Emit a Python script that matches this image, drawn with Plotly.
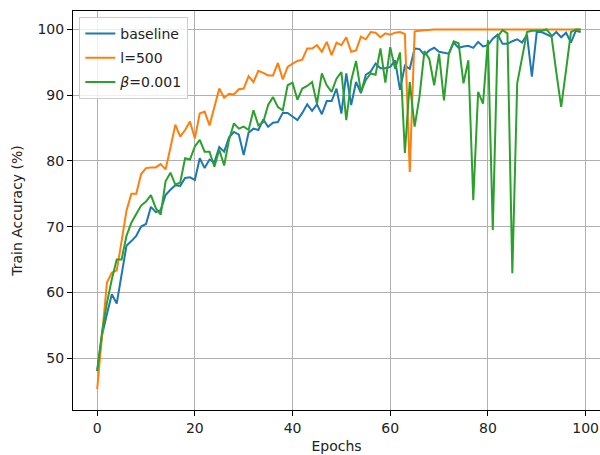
import plotly.graph_objects as go

epochs = list(range(100))

baseline = [
    48.0, 53.5, 56.7, 59.7, 58.3, 62.8, 67.1, 67.8, 68.6, 70.0,
    70.4, 73.0, 72.2, 72.5, 74.8, 75.6, 76.3, 76.2, 77.4, 77.5,
    77.1, 80.4, 78.9, 80.2, 79.8, 82.1, 81.4, 83.6, 84.4, 84.0,
    80.9, 84.3, 84.9, 84.7, 86.3, 85.2, 85.8, 85.9, 87.3, 87.3,
    86.7, 86.2, 87.3, 88.6, 87.6, 88.6, 87.1, 89.1, 89.1, 91.0,
    87.2, 93.3, 88.5, 92.0, 90.3, 93.1, 93.6, 94.8, 94.1, 94.1,
    94.3, 95.3, 90.8, 94.5, 94.0, 97.1, 97.0, 96.1, 96.8, 97.2,
    96.6, 96.4, 96.3, 98.0, 97.2, 97.4, 97.5, 97.2, 98.1, 97.4,
    97.6, 98.6, 99.2, 97.8, 97.8, 98.2, 98.5, 98.0, 99.2, 92.8,
    99.6, 99.6, 99.2, 98.9, 99.6, 98.8, 99.5, 98.0, 99.8, 99.6,
]

l500 = [
    45.3, 53.0, 61.5, 63.0, 63.3, 67.8, 72.4, 75.0, 75.0, 78.0,
    78.9, 79.0, 79.0, 79.5, 78.7, 82.0, 85.5, 83.7, 84.7, 86.0,
    83.4, 87.2, 87.5, 85.4, 88.2, 91.0, 89.6, 90.2, 90.1, 90.9,
    91.0, 92.9, 92.0, 93.7, 93.4, 93.0, 93.0, 94.9, 92.4, 94.3,
    94.8, 95.2, 95.4, 97.1, 97.1, 97.6, 96.6, 98.1, 96.1, 98.0,
    97.6, 98.8, 96.6, 96.8, 98.9, 98.5, 99.6, 99.5, 98.8, 99.4,
    99.2, 99.5, 99.6, 99.3, 78.3, 99.7, 99.8, 99.9, 100.0, 100.0,
    100.0, 100.0, 100.0, 100.0, 100.0, 100.0, 100.0, 100.0, 100.0, 100.0,
    100.0, 100.0, 100.0, 100.0, 100.0, 100.0, 100.0, 100.0, 100.0, 100.0,
    100.0, 100.0, 100.0, 100.0, 100.0, 100.0, 100.0, 100.0, 100.0, 100.0,
]

beta001 = [
    48.0, 54.0, 58.4, 62.0, 65.0, 65.0, 68.6, 70.6, 71.9, 73.2,
    73.8, 74.8, 72.8, 71.8, 76.9, 78.2, 76.4, 76.7, 80.4, 80.2,
    82.2, 83.2, 81.4, 81.4, 79.1, 81.7, 79.3, 83.2, 85.7, 84.9,
    85.2, 84.7, 87.7, 85.4, 85.9, 88.5, 89.7, 88.2, 87.7, 91.5,
    91.9, 89.3, 91.0, 91.4, 92.0, 88.7, 93.3, 91.5, 90.5, 92.5,
    93.5, 86.2, 92.2, 95.2, 90.5, 92.3, 93.3, 93.1, 97.1, 91.9,
    97.3, 94.0, 96.5, 81.2, 92.0, 85.2, 89.8, 96.7, 95.5, 91.5,
    96.3, 89.2, 96.3, 98.2, 97.9, 91.8, 95.3, 74.0, 90.5, 88.7,
    98.4, 69.5, 98.9, 99.9, 99.4, 62.9, 91.8, 95.8, 99.6, 99.8,
    99.8, 99.8, 100.0, 99.1, 93.5, 88.2, 93.8, 99.6, 100.0, 100.0,
]

series_names = ["baseline", "l=500", "<i>β</i>=0.001"]
series_colors = ["#1f77b4", "#ff7f0e", "#2ca02c"]
x_ticks = [0, 20, 40, 60, 80, 100]
y_ticks = [50, 60, 70, 80, 90, 100]

fig = go.Figure()
for i, (name, vals, col) in enumerate(zip(series_names, [baseline, l500, beta001], series_colors)):
    fig.add_trace(go.Scatter(x=epochs, y=vals, mode="lines", name=name,
                             legendgroup=f"g{i}",
                             line=dict(color=col, width=2)))

axis_common = dict(
    showgrid=True, gridcolor="#b0b0b0", gridwidth=1,
    showline=True, linecolor="black", linewidth=1,
    ticks="outside", ticklen=5, tickwidth=1, tickcolor="black",
    zeroline=False,
    tickfont=dict(family="DejaVu Sans", size=14, color="#222222"),
)

fig.update_layout(
    width=600, height=455,
    margin=dict(l=73, r=0, t=11, b=45),
    paper_bgcolor="white", plot_bgcolor="white",
    font=dict(family="DejaVu Sans", size=14, color="#222222"),
    xaxis=dict(range=[-4.95, 102.95], tickvals=x_ticks, mirror=True,
               title=dict(text="Epochs", standoff=6,
                          font=dict(family="DejaVu Sans", size=14)),
               **axis_common),
    yaxis=dict(range=[42.1, 102.8], tickvals=y_ticks, mirror=False,
               title=dict(text="Train Accuracy (%)", standoff=11,
                          font=dict(family="DejaVu Sans", size=14)),
               **axis_common),
    legend=dict(x=0.012, y=0.985, xanchor="left", yanchor="top",
                bgcolor="rgba(255,255,255,0.8)", bordercolor="#cccccc",
                borderwidth=1, font=dict(family="DejaVu Sans", size=14),
                tracegroupgap=3),
    showlegend=True,
)

fig.write_html("out.html")
